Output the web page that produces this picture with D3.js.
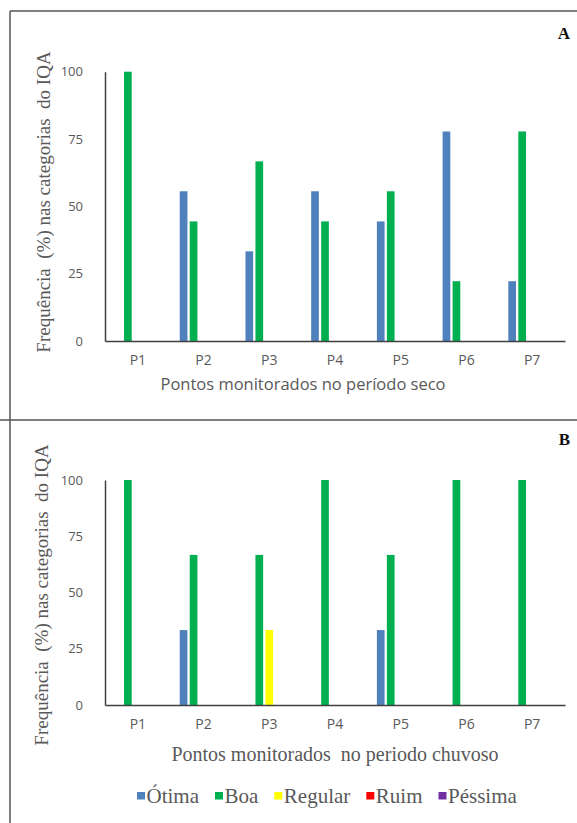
<!DOCTYPE html>
<html>
<head>
<meta charset="utf-8">
<script src="https://cdn.jsdelivr.net/npm/d3@7"></script>
<style>
  body { margin: 0; background: #fff; }
  svg { display: block; }
</style>
</head>
<body>
<svg id="chart" width="577" height="823"></svg>
<script>
// ---------------- data ----------------
const pontos = ["P1", "P2", "P3", "P4", "P5", "P6", "P7"];
const categoriasIQA = ["Ótima", "Boa", "Regular", "Ruim", "Péssima"];
const coresIQA = ["#4f81bd", "#00b050", "#ffff00", "#ff0000", "#7030a0"];
const yTicks = [0, 25, 50, 75, 100];

// periodo seco (painel A), one array per category, in order of pontos
const secoOtima   = [0, 55.6, 33.3, 55.6, 44.4, 77.8, 22.2];
const secoBoa     = [100, 44.4, 66.7, 44.4, 55.6, 22.2, 77.8];
const secoRegular = [0, 0, 0, 0, 0, 0, 0];
const secoRuim    = [0, 0, 0, 0, 0, 0, 0];
const secoPessima = [0, 0, 0, 0, 0, 0, 0];

// periodo chuvoso (painel B)
const chuvaOtima   = [0, 33.3, 0, 0, 33.3, 0, 0];
const chuvaBoa     = [100, 66.7, 66.7, 100, 66.7, 100, 100];
const chuvaRegular = [0, 0, 33.3, 0, 0, 0, 0];
const chuvaRuim    = [0, 0, 0, 0, 0, 0, 0];
const chuvaPessima = [0, 0, 0, 0, 0, 0, 0];

// ---------------- frame ----------------
var svg = d3.select("#chart");
var frameColor = "#555";

svg.append("line")
  .attr("x1", 10).attr("x2", 577).attr("y1", 11).attr("y2", 11)
  .attr("stroke", frameColor).attr("stroke-width", 1.5);
svg.append("line")
  .attr("x1", 10).attr("x2", 10).attr("y1", 11).attr("y2", 823)
  .attr("stroke", frameColor).attr("stroke-width", 1.5);
svg.append("line")
  .attr("x1", 0).attr("x2", 577).attr("y1", 420).attr("y2", 420)
  .attr("stroke", frameColor).attr("stroke-width", 1.5);

const grey = "#595959";
const serif = "'Liberation Serif', 'Times New Roman', serif";
const sans = "'Open Sans', sans-serif";
const plotLeft = 105, plotRight = 565;

var x = d3.scaleBand()
  .domain(pontos)
  .range([plotLeft, plotRight])
  .paddingInner(0.24)
  .paddingOuter(0.12);

var xSerie = d3.scaleBand()
  .domain(categoriasIQA)
  .range([0, x.bandwidth()])
  .paddingInner(0.23)
  .paddingOuter(0.115);

function drawPanel(cfg) {
  var g = svg.append("g");
  var y = d3.scaleLinear().domain([0, 100]).range([cfg.y0, cfg.y100]);

  // bars, one group per ponto
  var rows = pontos.map(function(p, i) {
    return categoriasIQA.map(function(c, j) {
      return { ponto: p, cat: c, value: cfg.series[j][i], color: coresIQA[j] };
    });
  });

  var grp = g.selectAll(".grp")
    .data(rows)
    .enter().append("g")
    .attr("transform", function(d) { return "translate(" + x(d[0].ponto) + ",0)"; });

  grp.selectAll("rect")
    .data(function(d) { return d.filter(function(e) { return e.value > 0; }); })
    .enter().append("rect")
    .attr("x", function(d) { return xSerie(d.cat); })
    .attr("width", xSerie.bandwidth())
    .attr("y", function(d) { return y(d.value); })
    .attr("height", function(d) { return y(0) - y(d.value); })
    .attr("fill", function(d) { return d.color; });

  // y axis: line only, labels in grey
  var yAxis = g.append("g")
    .attr("transform", "translate(" + plotLeft + ",0)")
    .call(d3.axisLeft(y).tickValues(yTicks).tickSize(0).tickPadding(22));
  yAxis.select(".domain").attr("stroke", "#404040").attr("stroke-width", 1.5);
  yAxis.selectAll("text")
    .attr("fill", grey)
    .style("font-family", sans)
    .style("font-size", "13px");

  // x axis
  var xAxis = g.append("g")
    .attr("transform", "translate(0," + cfg.y0 + ")")
    .call(d3.axisBottom(x).tickSize(0).tickPadding(cfg.tickPad));
  xAxis.select(".domain").attr("stroke", "#404040").attr("stroke-width", 1.5);
  xAxis.selectAll("text")
    .attr("fill", grey)
    .style("font-family", sans)
    .style("font-size", "14px");

  // y title
  g.append("text")
    .attr("transform", "translate(" + cfg.yTitleX + "," + cfg.yTitleY + ") rotate(-90)")
    .attr("text-anchor", "middle")
    .attr("fill", grey)
    .style("font-family", serif)
    .style("font-size", "19px")
    .style("white-space", "pre")
    .text("Frequência  (%) nas categorias  do IQA");

  // x title
  g.append("text")
    .attr("x", cfg.xTitleX).attr("y", cfg.xTitleY)
    .attr("text-anchor", "middle")
    .attr("fill", grey)
    .style("font-family", cfg.xTitleFont)
    .style("font-size", cfg.xTitleSize)
    .style("white-space", "pre")
    .text(cfg.xTitle);

  // panel letter
  g.append("text")
    .attr("x", 570).attr("y", cfg.letterY)
    .attr("text-anchor", "end")
    .attr("fill", "#111")
    .style("font-family", serif)
    .style("font-size", "17px")
    .style("font-weight", "bold")
    .text(cfg.letter);
}

drawPanel({
  series: [secoOtima, secoBoa, secoRegular, secoRuim, secoPessima],
  y0: 341, y100: 71.7, tickPad: 14,
  yTitleX: 50, yTitleY: 202,
  xTitle: "Pontos monitorados no período seco",
  xTitleX: 303, xTitleY: 390,
  xTitleFont: sans, xTitleSize: "16.5px",
  letter: "A", letterY: 39
});

drawPanel({
  series: [chuvaOtima, chuvaBoa, chuvaRegular, chuvaRuim, chuvaPessima],
  y0: 705, y100: 480, tickPad: 14,
  yTitleX: 48, yTitleY: 595,
  xTitle: "Pontos monitorados  no periodo chuvoso",
  xTitleX: 335, xTitleY: 761,
  xTitleFont: serif, xTitleSize: "20px",
  letter: "B", letterY: 445
});

// ---------------- legend ----------------
var legend = svg.append("g");
var items = legend.selectAll(".item")
  .data(categoriasIQA)
  .enter().append("g");

items.append("rect")
  .attr("width", 8).attr("height", 7.5)
  .attr("y", -11)
  .attr("fill", function(d, i) { return coresIQA[i]; });

items.append("text")
  .attr("x", 9.5)
  .attr("fill", grey)
  .style("font-family", serif)
  .style("font-size", "21px")
  .text(function(d) { return d; });

var xPos = 0;
var offsets = [];
items.each(function() {
  offsets.push(xPos);
  xPos += 9.5 + d3.select(this).select("text").node().getComputedTextLength() + 16;
});
legend.attr("transform", "translate(137,803)");
items.attr("transform", function(d, i) { return "translate(" + offsets[i] + ",0)"; });
</script>
</body>
</html>
